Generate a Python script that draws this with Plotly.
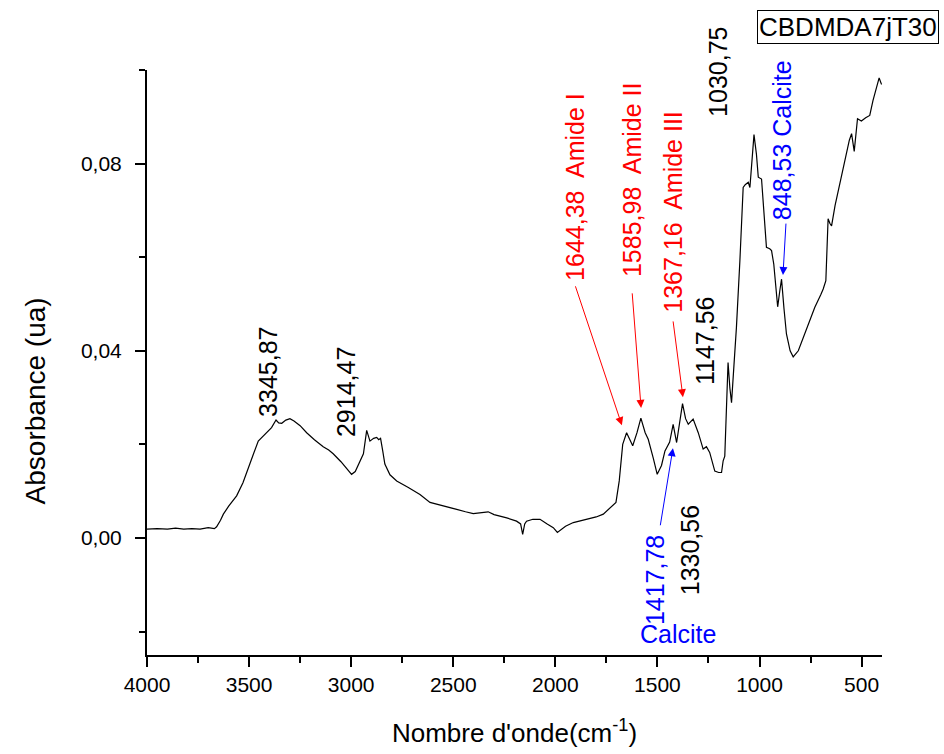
import plotly.graph_objects as go

wavenumber = [4000, 3950, 3900, 3860, 3820, 3780, 3740, 3700, 3670, 3659, 3640, 3626, 3600, 3561, 3530, 3504,
              3480, 3455, 3430, 3414, 3390, 3368, 3355, 3340, 3320, 3300, 3280, 3250, 3218, 3180, 3137, 3110,
              3088, 3050, 3020, 2998, 2980, 2957, 2940, 2924, 2915, 2908, 2890, 2875, 2865, 2856, 2845, 2835,
              2810, 2777, 2720, 2663, 2614, 2550, 2483, 2440, 2402, 2329, 2300, 2238, 2190, 2170, 2160, 2150,
              2141, 2110, 2075, 2040, 2010, 1990, 1978, 1950, 1912, 1870, 1830, 1800, 1765, 1733, 1703, 1687,
              1670, 1651, 1635, 1621, 1600, 1581, 1560, 1545, 1520, 1501, 1480, 1463, 1440, 1423, 1406, 1390,
              1377, 1362, 1349, 1325, 1300, 1276, 1260, 1244, 1219, 1200, 1186, 1178, 1170, 1160, 1154, 1145,
              1137, 1125, 1113, 1096, 1080, 1070, 1055, 1047, 1038, 1027, 1015, 1006, 990, 980, 966, 950,
              941, 930, 920, 911, 900, 892, 880, 868, 850, 835, 810, 786, 760, 729, 700, 688,
              675, 664, 655, 647, 630, 605, 582, 560, 549, 536, 520, 501, 480, 460, 444, 427,
              414, 402]
absorbance = [0.0019, 0.0020, 0.0019, 0.0021, 0.0019, 0.0020, 0.0019, 0.0022, 0.0020, 0.0024, 0.0038, 0.0051,
              0.0068, 0.0090, 0.0118, 0.0147, 0.0178, 0.0207, 0.0219, 0.0225, 0.0236, 0.0252, 0.0246, 0.0245,
              0.0252, 0.0255, 0.0250, 0.0240, 0.0225, 0.0210, 0.0195, 0.0188, 0.0180, 0.0163, 0.0147, 0.0136,
              0.0142, 0.0165, 0.0180, 0.0230, 0.0218, 0.0207, 0.0213, 0.0215, 0.0210, 0.0213, 0.0185, 0.0158,
              0.0135, 0.0122, 0.0108, 0.0093, 0.0076, 0.0068, 0.0061, 0.0056, 0.0052, 0.0056, 0.0050, 0.0043,
              0.0036, 0.0030, 0.0008, 0.0030, 0.0036, 0.0040, 0.0040, 0.0030, 0.0022, 0.0012, 0.0016, 0.0025,
              0.0033, 0.0037, 0.0041, 0.0045, 0.0051, 0.0065, 0.0076, 0.0122, 0.0200, 0.0225, 0.0210, 0.0197,
              0.0225, 0.0256, 0.0225, 0.0211, 0.0170, 0.0136, 0.0155, 0.0186, 0.0205, 0.0243, 0.0204, 0.0250,
              0.0287, 0.0255, 0.0243, 0.0254, 0.0225, 0.0190, 0.0195, 0.0183, 0.0143, 0.0140, 0.0140, 0.0165,
              0.0175, 0.0300, 0.0375, 0.0320, 0.0289, 0.0370, 0.0450, 0.0593, 0.0749, 0.0755, 0.0760, 0.0749,
              0.0800, 0.0862, 0.0820, 0.0771, 0.0767, 0.0700, 0.0621, 0.0618, 0.0614, 0.0585, 0.0540, 0.0494,
              0.0530, 0.0553, 0.0490, 0.0436, 0.0400, 0.0387, 0.0400, 0.0428, 0.0460, 0.0493, 0.0520, 0.0532,
              0.0550, 0.0682, 0.0672, 0.0667, 0.0710, 0.0760, 0.0806, 0.0850, 0.0864, 0.0826, 0.0896, 0.0891,
              0.0898, 0.0903, 0.0935, 0.0960, 0.0983, 0.0969]

sample_name = "CBDMDA7jT30"

FONT = "Liberation Sans, Arial, sans-serif"

fig = go.Figure()
fig.add_trace(go.Scatter(x=wavenumber, y=absorbance, mode="lines",
                         line=dict(color="black", width=1.2), showlegend=False))

# (text, x, y, color)
labels = [
    ("3345,87", 3407, 0.0355, "black"),
    ("2914,47", 3025, 0.0312, "black"),
    ("1644,38  Amide I", 1904, 0.0750, "red"),
    ("1585,98  Amide II", 1624, 0.0765, "red"),
    ("1367,16  Amide III", 1424, 0.0697, "red"),
    ("1147,56", 1267, 0.0423, "black"),
    ("1030,75", 1203, 0.0996, "black"),
    ("848,53 Calcite", 890, 0.0850, "blue"),
    ("1417,78", 1512, -0.0090, "blue"),
    ("1330,56", 1340, -0.0026, "black"),
]
for t, x, y, c in labels:
    fig.add_annotation(x=x, y=y, xref="x", yref="y", text=t, showarrow=False,
                       textangle=-90, font=dict(family=FONT, size=25, color=c))
fig.add_annotation(x=1399, y=-0.0205, xref="x", yref="y", text="Calcite", showarrow=False,
                   font=dict(family=FONT, size=25, color="blue"))

# arrows: (tail x, tail y, tip x, tip y, color)
arrows = [
    (1904, 0.0541, 1674, 0.0241, "red"),
    (1624, 0.0526, 1580, 0.0278, "red"),
    (1424, 0.0466, 1375, 0.0301, "red"),
    (1487, 0.0024, 1424, 0.0192, "blue"),
    (870, 0.0675, 885, 0.0562, "blue"),
]
for ax, ay, x, y, c in arrows:
    fig.add_annotation(x=x, y=y, ax=ax, ay=ay, xref="x", yref="y", axref="x", ayref="y",
                       text="", showarrow=True, arrowhead=2, arrowsize=1.6, arrowwidth=1,
                       arrowcolor=c, standoff=0, startstandoff=0)

fig.add_annotation(x=0.954, y=1.0735, xref="paper", yref="paper", xanchor="center", yanchor="middle",
                   text=sample_name, showarrow=False,
                   font=dict(family=FONT, size=26, color="black"), bordercolor="black",
                   borderwidth=1, borderpad=1, bgcolor="white")

# y-axis title (placed as in the reference, slightly below plot centre)
fig.add_annotation(x=-0.152, y=0.434, xref="paper", yref="paper", xanchor="center", yanchor="middle",
                   text="Absorbance (ua)", textangle=-90, showarrow=False,
                   font=dict(family=FONT, size=28, color="black"))

fig.update_layout(
    width=944, height=754,
    margin=dict(l=147, r=62, t=70, b=99),
    plot_bgcolor="white", paper_bgcolor="white",
    separators=",.",
    font=dict(family=FONT, color="black"),
    xaxis=dict(range=[4000, 400], showgrid=False, zeroline=False, showline=True,
               linecolor="black", linewidth=2, ticks="outside", ticklen=10, tickwidth=2,
               tickcolor="black", dtick=500, tick0=500,
               minor=dict(ticks="outside", ticklen=6, tickwidth=2, dtick=250, tickcolor="black"),
               tickfont=dict(family=FONT, size=21),
               title=dict(text="Nombre d'onde(cm<sup>-1</sup>)", font=dict(family=FONT, size=26),
                          standoff=29)),
    yaxis=dict(range=[-0.025, 0.1], showgrid=False, zeroline=False, showline=True,
               linecolor="black", linewidth=2, ticks="outside", ticklen=10, tickwidth=2,
               tickcolor="black", dtick=0.04, tick0=0, tickformat=".2f", ticklabelstandoff=9,
               minor=dict(ticks="outside", ticklen=6, tickwidth=2, dtick=0.02, tickcolor="black"),
               tickfont=dict(family=FONT, size=21)),
)

fig.write_html("out.html")
